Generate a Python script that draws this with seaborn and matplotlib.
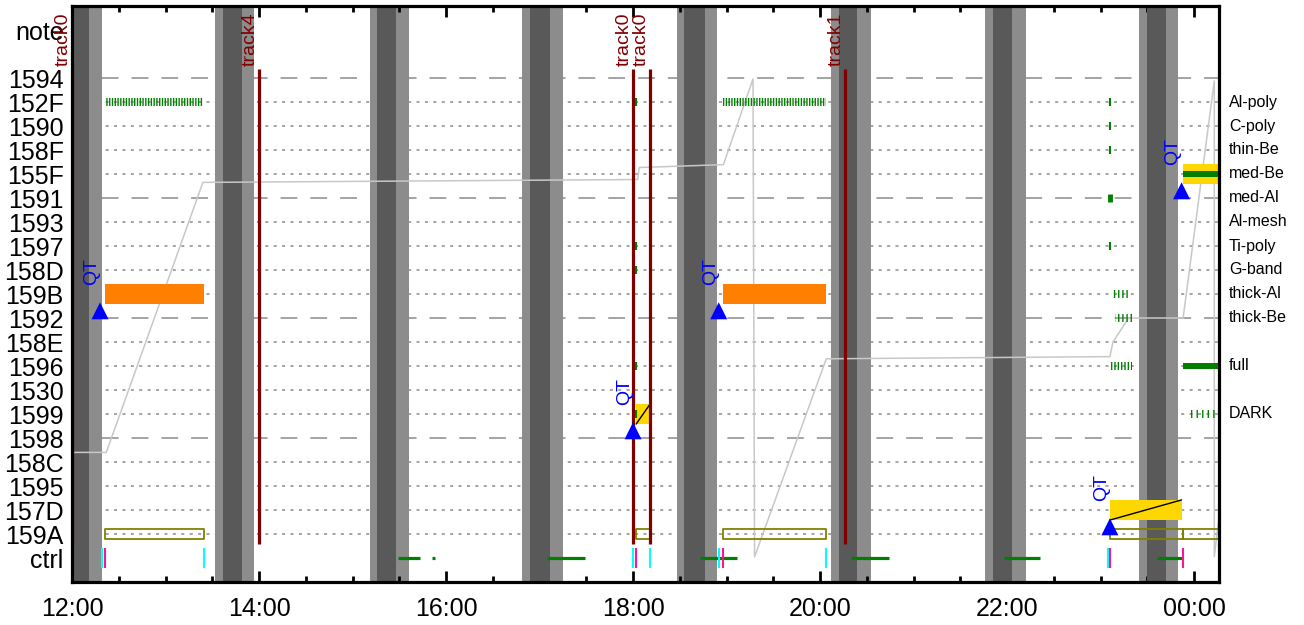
import pandas as pd
import matplotlib.pyplot as plt
import seaborn as sns
from matplotlib.ticker import MultipleLocator, FuncFormatter

# Row labels, top to bottom (1594 = 20 ... 159A = 1)
rows = ["1594", "152F", "1590", "158F", "155F", "1591", "1593", "1597", "158D", "159B",
        "1592", "158E", "1596", "1530", "1599", "1598", "158C", "1595", "157D", "159A"]
ypos = {lab: 20 - i for i, lab in enumerate(rows)}
ypos["note"] = 22
ypos["ctrl"] = 0

right_labels = ["Al-poly", "C-poly", "thin-Be", "med-Be", "med-Al", "Al-mesh", "Ti-poly",
                "G-band", "thick-Al", "thick-Be", "full", "DARK"]
right_rows = ["152F", "1590", "158F", "155F", "1591", "1593", "1597", "158D", "159B",
              "1592", "1596", "1599"]

# shaded bands (outer light, inner dark)
band_light = [("11:53", "12:19"), ("13:32", "13:57"), ("15:11", "15:36"), ("16:49", "17:15"),
              ("18:28", "18:54"), ("20:07", "20:33"), ("21:46", "22:12"), ("23:25", "23:50")]
band_dark = [("11:58", "12:11"), ("13:37", "13:49"), ("15:16", "15:28"), ("16:54", "17:07"),
             ("18:33", "18:46"), ("20:12", "20:24"), ("21:51", "22:03"), ("23:30", "23:42")]

# track markers
track_t = ["12:00", "14:00", "18:00", "18:11", "20:16"]
track_lab = ["track0", "track4", "track0", "track0", "track1"]

# QT markers
qt_t = ["12:18", "18:00", "18:55", "23:06", "23:52"]
qt_row = ["1592", "1598", "1592", "159A", "1591"]

# memory (gray) line, in row units
mem_t = ["12:00", "12:22", "13:24", "18:03", "18:04", "18:58", "19:17", "19:18", "20:04",
         "23:06", "23:08", "23:18", "23:53", "00:13", "00:13", "00:17"]
mem_v = [4.4, 4.4, 15.65, 15.77, 16.27, 16.39, 19.96, 0.05, 8.3,
         8.39, 9.0, 10.0, 10.0, 19.88, 0.05, 2.3]

# orange bars on 159B
orange_start = ["12:21", "18:58"]
orange_end = ["13:25", "20:04"]

# olive boxes on 159A
olive_start = ["12:21", "18:02", "18:58", "23:06", "23:53"]
olive_end = ["13:25", "18:11", "20:04", "23:53", "00:25"]

# yellow bars
yellow_start = ["18:02", "23:06", "23:53"]
yellow_end = ["18:11", "23:52", "00:25"]
yellow_row = ["1599", "157D", "155F"]
yellow_diag = [True, True, False]

# green tick runs
run_row = ["152F", "152F", "159B", "1592", "1596", "1599"]
run_start = ["12:21", "18:58", "23:08", "23:09", "23:06", "23:57"]
run_end = ["13:24", "20:04", "23:18", "23:20", "23:20", "00:15"]
run_hatch = ["||||||", "||||||", "||||", "||||", "|||||", "|||"]

# single green ticks
tick_t = ["18:02", "18:02", "18:02", "18:02", "18:02", "23:06", "23:06", "23:06", "23:06"]
tick_row = ["152F", "1597", "158D", "1596", "1599", "152F", "1590", "158F", "1597"]
thick_tick_t = ["23:06"]
thick_tick_row = ["1591"]

# solid green bars
solid_row = ["155F", "1596"]
solid_start = ["23:53", "23:53"]
solid_end = ["00:25", "00:25"]

# ctrl row
ctrl_cyan = ["12:19", "13:25", "18:00", "18:11", "18:55", "20:04", "23:05"]
ctrl_magenta = ["12:21", "18:02", "18:58", "23:06", "23:53"]
ctrl_green_start = ["15:29", "15:51", "17:05", "18:43", "20:20", "21:58", "23:36"]
ctrl_green_end = ["15:43", "15:53", "17:29", "19:07", "20:44", "22:21", "23:52"]


def hrs(s):
    # hours from midnight of the first day; times after midnight go past 24
    h, m = map(int, s.split(":"))
    if h < 6:
        h += 24
    return h + m / 60


sns.set_theme(style="white")
plt.rcParams['font.family'] = ['Liberation Sans', 'DejaVu Sans']
plt.rcParams['hatch.linewidth'] = 1.0
plt.rcParams['text.color'] = 'black'
plt.rcParams['xtick.labelcolor'] = 'black'
plt.rcParams['ytick.labelcolor'] = 'black'

fig, ax = plt.subplots(figsize=(13.04, 6.25), dpi=100)
fig.subplots_adjust(left=72 / 1304, right=1219 / 1304, bottom=43 / 625, top=619 / 625)

x0, x1 = 12.0, 24.267
ax.set_xlim(x0, x1)
ax.set_ylim(-1, 23)

# bands
for a, b in band_light:
    ax.axvspan(hrs(a), hrs(b), color="#8c8c8c", lw=0, zorder=0.5)
for a, b in band_dark:
    ax.axvspan(hrs(a), hrs(b), color="#595959", lw=0, zorder=1.0)

# grid lines
for r in range(1, 21):
    if r % 5 == 0:
        ax.hlines(r, x0, x1, color="#8c8c8c", lw=1.1, linestyles=[(0, (11, 8.5))], zorder=0.8)
    else:
        ax.hlines(r, x0, x1, color="#8c8c8c", lw=1.1, linestyles=[(0, (2, 3.5))], zorder=0.8)

# memory line
mem = pd.DataFrame({"t": [hrs(t) for t in mem_t], "v": mem_v})
sns.lineplot(data=mem, x="t", y="v", sort=False, estimator=None, color="#c8c8c8",
             lw=1.1, ax=ax, zorder=1.5)

# orange bars
for a, b in zip(orange_start, orange_end):
    ax.broken_barh([(hrs(a), hrs(b) - hrs(a))], (ypos["159B"] - 0.42, 0.84),
                   facecolors="#ff8000", lw=0, zorder=2)

# olive boxes
for a, b in zip(olive_start, olive_end):
    ax.broken_barh([(hrs(a), hrs(b) - hrs(a))], (ypos["159A"] - 0.2, 0.4),
                   facecolors="none", edgecolors="#808000", lw=1.3, zorder=2)

# yellow bars
for a, b, r, d in zip(yellow_start, yellow_end, yellow_row, yellow_diag):
    y = ypos[r]
    ax.broken_barh([(hrs(a), hrs(b) - hrs(a))], (y - 0.42, 0.84),
                   facecolors="#ffd700", lw=0, zorder=2)
    if d:
        ax.plot([hrs(a), hrs(b)], [y - 0.42, y + 0.42], color="black", lw=1.0, zorder=2.2)

# green tick runs
for r, a, b, h in zip(run_row, run_start, run_end, run_hatch):
    ax.broken_barh([(hrs(a), hrs(b) - hrs(a))], (ypos[r] - 0.17, 0.34),
                   facecolors="none", edgecolors="#008000", lw=0, hatch=h, zorder=2.5)

ax.plot([hrs(t) for t in tick_t], [ypos[r] for r in tick_row], ls="none", marker="|",
        ms=6, mew=1.5, color="#008000", zorder=2.5)
ax.plot([hrs(t) for t in thick_tick_t], [ypos[r] for r in thick_tick_row], ls="none",
        marker="|", ms=6, mew=3.5, color="#008000", zorder=2.5)

for r, a, b in zip(solid_row, solid_start, solid_end):
    ax.broken_barh([(hrs(a), hrs(b) - hrs(a))], (ypos[r] - 0.13, 0.26),
                   facecolors="#008000", lw=0, zorder=2.6)

# ctrl row
for a, b in zip(ctrl_green_start, ctrl_green_end):
    ax.hlines(0, hrs(a), hrs(b), color="#008000", lw=2.3, zorder=2)
ax.vlines([hrs(t) for t in ctrl_cyan], -0.4, 0.4, color="#00ffff", lw=1.5, zorder=2.5)
ax.vlines([hrs(t) for t in ctrl_magenta], -0.4, 0.4, color="#ff1493", lw=1.5, zorder=2.6)

# track lines
for t, lab in zip(track_t, track_lab):
    ax.vlines(hrs(t), 0.59, 20.38, color="#800000", lw=2.3, zorder=3)
    ax.text(hrs(t), 20.5, lab, rotation=90, ha="right", va="bottom", color="#800000",
            fontsize=14, clip_on=False, zorder=5)

# QT markers
qt = pd.DataFrame({"t": [hrs(t) for t in qt_t], "y": [ypos[r] + 0.3 for r in qt_row]})
sns.scatterplot(data=qt, x="t", y="y", marker="^", s=150, color="#0000ff",
                edgecolor="none", ax=ax, zorder=4, clip_on=False)
for t, r in zip(qt_t, qt_row):
    ax.text(hrs(t), ypos[r] + 1.375, "QT", rotation=90, ha="right", va="bottom",
            color="#0000ff", fontsize=14, zorder=5)

# axes styling
ytick_labels = ["note"] + rows + ["ctrl"]
ax.set_yticks([ypos[l] for l in ytick_labels])
ax.set_yticklabels(ytick_labels, fontsize=18)
ax.tick_params(axis="y", length=0, pad=6, labelcolor="black")

ax.xaxis.set_major_locator(MultipleLocator(2))
ax.xaxis.set_minor_locator(MultipleLocator(0.5))
ax.xaxis.set_major_formatter(FuncFormatter(lambda v, p: f"{int(round(v)) % 24:02d}:00"))
ax.tick_params(axis="x", which="both", direction="in", top=True, bottom=True,
               width=2, color="black", labelsize=18, pad=11, labelcolor="black")
ax.tick_params(axis="x", which="major", length=8)
ax.tick_params(axis="x", which="minor", length=4)

for s in ax.spines.values():
    s.set_visible(True)
    s.set_linewidth(2.3)
    s.set_color("black")
    s.set_zorder(6)

for lab, r in zip(right_labels, right_rows):
    ax.text(1.0087, ypos[r], lab, transform=ax.get_yaxis_transform(), ha="left",
            va="center", fontsize=11.5, color="black")

ax.set_xlabel("")
ax.set_ylabel("")

plt.savefig("out.png", dpi=100)
plt.close()
